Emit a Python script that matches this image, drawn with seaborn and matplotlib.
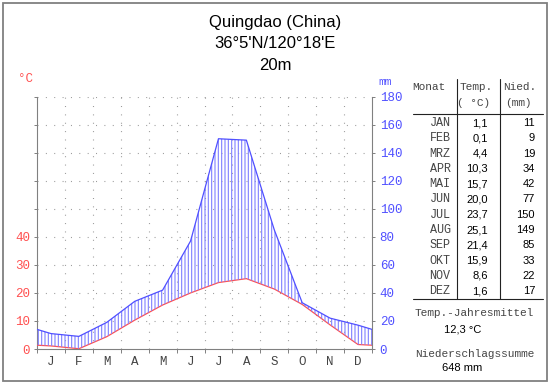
import numpy as np
import pandas as pd
import matplotlib
matplotlib.use("Agg")
import matplotlib.pyplot as plt
from matplotlib.lines import Line2D
from matplotlib.patches import Rectangle
import seaborn as sns

# ---------------- data ----------------
station = "Quingdao (China)"
coords = "36°5'N/120°18'E"
elevation = "20m"
month_letters = ['J', 'F', 'M', 'A', 'M', 'J', 'J', 'A', 'S', 'O', 'N', 'D']
month_abbr = ['JAN', 'FEB', 'MRZ', 'APR', 'MAI', 'JUN', 'JUL', 'AUG', 'SEP', 'OKT', 'NOV', 'DEZ']
temp = [1.1, 0.1, 4.4, 10.3, 15.7, 20.0, 23.7, 25.1, 21.4, 15.9, 8.6, 1.6]
prec = [11, 9, 19, 34, 42, 77, 150, 149, 85, 33, 22, 17]
temp_labels = ['1,1', '0,1', '4,4', '10,3', '15,7', '20,0', '23,7', '25,1', '21,4', '15,9', '8,6', '1,6']
mean_temp_label = "12,3 °C"
sum_prec_label = "648 mm"
temp_ticks = [0, 10, 20, 30, 40, 50, 60, 70, 80, 90]
temp_ticklabels = ['0', '10', '20', '30', '40', '', '', '', '', '']
prec_ticks = [0, 20, 40, 60, 80, 100, 120, 140, 160, 180]

# ---------------- styling ----------------
sns.set_style("white")
plt.rcParams['font.family'] = ['Liberation Sans', 'DejaVu Sans']
plt.rcParams['lines.scale_dashes'] = False
plt.rcParams['hatch.linewidth'] = 0.8

RED = '#ff5050'
BLUE = '#5050ff'
HATCH = '#8080ff'
GRAY = '#808080'
TXT = '#444444'
MONO = 'Liberation Mono'

W, H = 550, 384
fig = plt.figure(figsize=(W / 100, H / 100), dpi=100)


def fx(x):
    return x / W


def fy(y):
    return 1 - y / H


# axis box in pixels
L, R, T, B = 37, 372, 96.7, 349
ax = fig.add_axes([fx(L), fy(B), fx(R) - fx(L), fy(T) - fy(B)])
ax2 = ax.twinx()

# line data: month centres plus wrapped edges
edge_t = (temp[-1] + temp[0]) / 2
edge_p = (prec[-1] + prec[0]) / 2
xs = [0.0] + [i + 0.5 for i in range(12)] + [12.0]
df = pd.DataFrame({
    'x': xs,
    'temp': [edge_t] + temp + [edge_t],
    'prec': [edge_p] + prec + [edge_p],
})
df['temp_mm'] = df['temp'] * 2

# hatching between curves (humid period)
ax2.fill_between(df['x'], df['temp_mm'], df['prec'], where=df['prec'] >= df['temp_mm'],
                 facecolor='none', edgecolor=HATCH, hatch='|||||', linewidth=0,
                 interpolate=True, zorder=1)

sns.lineplot(data=df, x='x', y='temp', ax=ax, color=RED, linewidth=0.9,
             estimator=None, sort=False, zorder=3)
sns.lineplot(data=df, x='x', y='prec', ax=ax2, color=BLUE, linewidth=0.9,
             estimator=None, sort=False, zorder=3)

# axes limits / ticks
ax.set_xlim(0, 12)
ax.set_ylim(0, 90)
ax2.set_ylim(0, 180)
ax.set_xlabel('')
ax.set_ylabel('')
ax2.set_xlabel('')
ax2.set_ylabel('')

ax.set_yticks(temp_ticks)
ax.set_yticklabels(temp_ticklabels, fontfamily=MONO, fontsize=9, color=RED)
ax.tick_params(axis='y', which='major', direction='out', length=2, width=0.7,
               color=GRAY, pad=3, left=True)
ax2.set_yticks(prec_ticks)
ax2.set_yticklabels([str(v) for v in prec_ticks], fontfamily=MONO, fontsize=9, color=BLUE)
ax2.tick_params(axis='y', which='major', direction='out', length=2, width=0.7,
                color=GRAY, pad=3.5, right=True)

ax.set_xticks(range(13))
ax.set_xticklabels([''] * 13)
ax.set_xticks([i + 0.5 for i in range(12)], minor=True)
ax.set_xticklabels(month_letters, minor=True, fontfamily=MONO, fontsize=9, color=TXT)
ax.tick_params(axis='x', which='major', direction='out', length=3, width=0.7,
               color=GRAY, bottom=True)
ax.tick_params(axis='x', which='minor', length=0, pad=5)

# dotted grid
dot = (0, (0.72, 5.3))
for yv in temp_ticks[1:]:
    ax.axhline(yv, color='#999999', linewidth=0.8, linestyle=dot, zorder=0)
for xv in range(1, 12):
    ax.axvline(xv, color='#999999', linewidth=0.8, linestyle=dot, zorder=0)
ax.grid(False)
ax2.grid(False)

# spines
for name, sp in ax.spines.items():
    sp.set_visible(name in ('left', 'bottom'))
    sp.set_color(GRAY)
    sp.set_linewidth(0.8)
for name, sp in ax2.spines.items():
    sp.set_visible(name == 'right')
    sp.set_color(GRAY)
    sp.set_linewidth(0.8)

# unit labels
fig.text(fx(25.5), fy(79), '°C', fontfamily=MONO, fontsize=9, color=RED, ha='center', va='center')
fig.text(fx(385.5), fy(82), 'mm', fontfamily=MONO, fontsize=8, color=BLUE, ha='center', va='center')

# title
fig.text(fx(275), fy(27), station, fontsize=12, ha='center', va='baseline', color='black')
fig.text(fx(275), fy(48.5), coords, fontsize=12, ha='center', va='baseline', color='black')
fig.text(fx(275), fy(70), elevation, fontsize=12, ha='center', va='baseline', color='black')

# table
fig.text(fx(429), fy(87), 'Monat', fontfamily=MONO, fontsize=8, color=TXT, ha='center', va='center')
fig.text(fx(476), fy(87), 'Temp.', fontfamily=MONO, fontsize=8, color=TXT, ha='center', va='center')
fig.text(fx(474), fy(103), '( °C)', fontfamily=MONO, fontsize=8, color=TXT, ha='center', va='center')
fig.text(fx(520), fy(87), 'Nied.', fontfamily=MONO, fontsize=8, color=TXT, ha='center', va='center')
fig.text(fx(518.5), fy(103), '(mm)', fontfamily=MONO, fontsize=8, color=TXT, ha='center', va='center')

for xv in (457, 500):
    fig.add_artist(Line2D([fx(xv), fx(xv)], [fy(79), fy(299)], color='#222222', linewidth=0.8))
for yv in (114, 299):
    fig.add_artist(Line2D([fx(413), fx(543)], [fy(yv), fy(yv)], color='#222222', linewidth=0.8))

row0, step = 123, 15.3
for i in range(12):
    yy = fy(row0 + i * step)
    fig.text(fx(440), yy, month_abbr[i], fontfamily=MONO, fontsize=8.5, color=TXT, ha='center', va='center')
    fig.text(fx(488), yy, temp_labels[i], fontsize=8, color='black', ha='right', va='center')
    fig.text(fx(535), yy, str(prec[i]), fontsize=8, color='black', ha='right', va='center')

fig.text(fx(474.5), fy(313), 'Temp.-Jahresmittel', fontfamily=MONO, fontsize=8, color=TXT, ha='center', va='center')
fig.text(fx(463), fy(330), mean_temp_label, fontsize=8, color='black', ha='center', va='center')
fig.text(fx(475), fy(354), 'Niederschlagssumme', fontfamily=MONO, fontsize=8, color=TXT, ha='center', va='center')
fig.text(fx(462.5), fy(368), sum_prec_label, fontsize=8, color='black', ha='center', va='center')

# outer frame
fig.add_artist(Rectangle((fx(2.5), fy(381)), fx(547) - fx(2.5), fy(2.5) - fy(381),
                         transform=fig.transFigure, fill=False, edgecolor=GRAY, linewidth=1.3))

fig.savefig('out.png', dpi=100)
